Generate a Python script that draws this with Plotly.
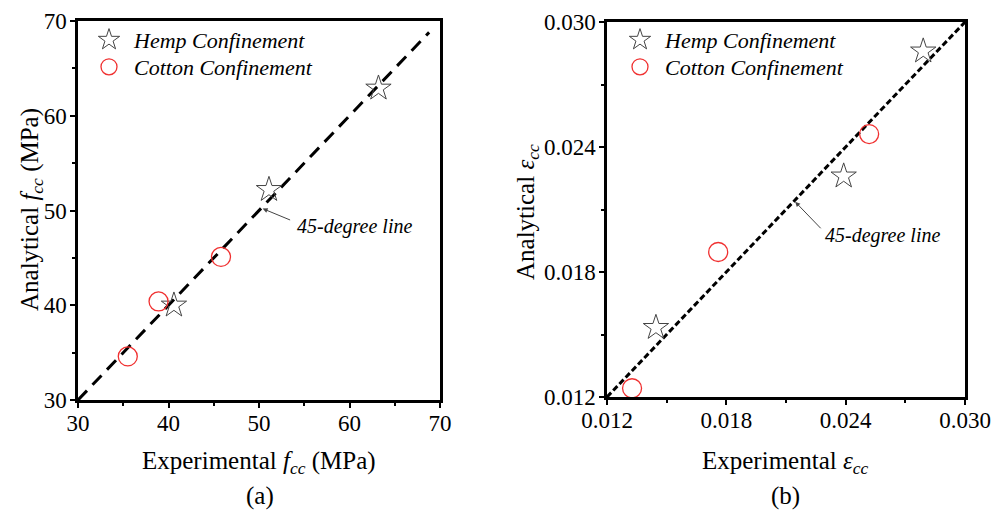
import plotly.graph_objects as go

# ---- data ----
hemp_fcc_exp = [40.6, 51.1, 63.2]
hemp_fcc_ana = [40.0, 52.2, 62.9]
cotton_fcc_exp = [35.5, 38.9, 45.8]
cotton_fcc_ana = [34.6, 40.4, 45.1]
line_fcc = [30, 68.8]

hemp_ecc_exp = [0.01446, 0.0239, 0.0279]
hemp_ecc_ana = [0.01533, 0.0226, 0.0286]
cotton_ecc_exp = [0.01326, 0.01759, 0.02518]
cotton_ecc_ana = [0.01242, 0.01896, 0.02462]
line_ecc = [0.012, 0.030]

fcc_ticks = [30, 40, 50, 60, 70]
ecc_ticks = [0.012, 0.018, 0.024, 0.030]
ecc_tick_text = ["0.012", "0.018", "0.024", "0.030"]

W, H = 998, 519
SERIF = "Liberation Serif"

dom_xa = [78 / W, 440 / W]
dom_ya = [1 - 400 / H, 1 - 21 / H]
dom_xb = [607 / W, 965 / W]
dom_yb = [1 - 397 / H, 1 - 22 / H]

fig = go.Figure()

# 45-degree lines
fig.add_trace(go.Scatter(x=line_fcc, y=line_fcc, mode="lines", xaxis="x", yaxis="y",
                         line=dict(color="black", width=3, dash="13px,8px"), showlegend=False))
fig.add_trace(go.Scatter(x=line_ecc, y=line_ecc, mode="lines", xaxis="x2", yaxis="y2",
                         line=dict(color="black", width=3, dash="6px,3px"), showlegend=False))

star = dict(symbol="star-open", size=19, color="#444", line=dict(color="#444", width=1))
circ = dict(symbol="circle-open", size=19, color="#f03030", line=dict(color="#f03030", width=1.3))

fig.add_trace(go.Scatter(x=hemp_fcc_exp, y=hemp_fcc_ana, mode="markers", xaxis="x", yaxis="y",
                         marker=star, name="<i>Hemp Confinement</i>", legend="legend"))
fig.add_trace(go.Scatter(x=cotton_fcc_exp, y=cotton_fcc_ana, mode="markers", xaxis="x", yaxis="y",
                         marker=circ, name="<i>Cotton Confinement</i>", legend="legend2"))
fig.add_trace(go.Scatter(x=hemp_ecc_exp, y=hemp_ecc_ana, mode="markers", xaxis="x2", yaxis="y2",
                         marker=star, name="<i>Hemp Confinement</i>", legend="legend3"))
fig.add_trace(go.Scatter(x=cotton_ecc_exp, y=cotton_ecc_ana, mode="markers", xaxis="x2", yaxis="y2",
                         marker=circ, name="<i>Cotton Confinement</i>", legend="legend4"))

tickfont = dict(family=SERIF, size=23, color="black")

def main_axis(domain, rng, tickvals, ticktext, anchor, minor_dtick, minor_tick0, standoff):
    return dict(domain=domain, range=rng, anchor=anchor, tickvals=tickvals, ticktext=ticktext,
                showline=True, mirror=True, linecolor="black", linewidth=2.5,
                ticks="outside", ticklen=5, tickwidth=2, tickcolor="black",
                ticklabelstandoff=standoff,
                minor=dict(ticks="outside", ticklen=3, tickwidth=1.5, tickcolor="black",
                           dtick=minor_dtick, tick0=minor_tick0),
                showgrid=False, zeroline=False, tickfont=tickfont, automargin=False)

def mirror_axis(over, side, rng, tickvals, anchor, minor_dtick, minor_tick0):
    return dict(overlaying=over, side=side, range=rng, anchor=anchor, tickvals=tickvals,
                showticklabels=False, showline=False, ticks="inside", ticklen=4, tickwidth=2,
                tickcolor="black",
                minor=dict(ticks="inside", ticklen=3, tickwidth=1.5, tickcolor="black",
                           dtick=minor_dtick, tick0=minor_tick0),
                showgrid=False, zeroline=False, automargin=False)

fcc_text = [str(v) for v in fcc_ticks]
fig.update_layout(
    xaxis=main_axis(dom_xa, [30, 70], fcc_ticks, fcc_text, "y", 5, 30, -4),
    yaxis=main_axis(dom_ya, [30, 70], fcc_ticks, fcc_text, "x", 5, 30, -1),
    xaxis2=main_axis(dom_xb, [0.012, 0.030], ecc_ticks, ecc_tick_text, "y2", 0.003, 0.012, -4),
    yaxis2=main_axis(dom_yb, [0.012, 0.030], ecc_ticks, ecc_tick_text, "x2", 0.003, 0.012, -1),
    xaxis3=mirror_axis("x", "top", [30, 70], fcc_ticks, "y", 5, 30),
    yaxis3=mirror_axis("y", "right", [30, 70], fcc_ticks, "x", 5, 30),
    xaxis4=mirror_axis("x2", "top", [0.012, 0.030], ecc_ticks, "y2", 0.003, 0.012),
    yaxis4=mirror_axis("y2", "right", [0.012, 0.030], ecc_ticks, "x2", 0.003, 0.012),
)

legfont = dict(family=SERIF, size=22, color="black")

def leg(xpx, ypx):
    return dict(x=xpx / W, y=1 - ypx / H, xanchor="left", yanchor="middle", font=legfont,
                bgcolor="rgba(0,0,0,0)", itemsizing="trace", itemwidth=40)

fig.update_layout(legend=leg(84, 40), legend2=leg(84, 67), legend3=leg(615, 40), legend4=leg(615, 67))

ann_font = dict(family=SERIF, size=25, color="black")
C = dict(xref="paper", yref="paper", showarrow=False, xanchor="center", yanchor="middle")
annotations = [
    dict(text="Experimental <i>f</i><sub><i>cc</i></sub> (MPa)", x=259 / W, y=1 - 462 / H,
         font=ann_font, **C),
    dict(text="Analytical <i>f</i><sub><i>cc</i></sub> (MPa)", x=31 / W, y=1 - 210 / H,
         font=ann_font, textangle=-90, **C),
    dict(text="(a)", x=260 / W, y=1 - 496 / H, font=dict(family=SERIF, size=25, color="black"), **C),
    dict(text="Experimental <i>ε</i><sub><i>cc</i></sub>", x=785 / W, y=1 - 462 / H,
         font=ann_font, **C),
    dict(text="Analytical <i>ε</i><sub><i>cc</i></sub>", x=528 / W, y=1 - 212 / H,
         font=ann_font, textangle=-90, **C),
    dict(text="(b)", x=785 / W, y=1 - 496 / H, font=dict(family=SERIF, size=25, color="black"), **C),
    # arrows
    dict(x=50.4, y=50.2, xref="x", yref="y", ax=29, ay=12, text="", showarrow=True,
         arrowhead=2, arrowsize=1, arrowwidth=1, arrowcolor="#444"),
    dict(text="<i>45-degree line</i>", x=54.0, y=48.3, xref="x", yref="y", xanchor="left",
         yanchor="middle", showarrow=False, font=dict(family=SERIF, size=20, color="black")),
    dict(x=0.02146, y=0.02137, xref="x2", yref="y2", ax=27, ay=28, text="", showarrow=True,
         arrowhead=2, arrowsize=1, arrowwidth=1, arrowcolor="#444"),
    dict(text="<i>45-degree line</i>", x=0.02287, y=0.01973, xref="x2", yref="y2", xanchor="left",
         yanchor="middle", showarrow=False, font=dict(family=SERIF, size=20, color="black")),
]
fig.update_layout(annotations=annotations)

fig.update_layout(width=W, height=H, margin=dict(l=0, r=0, t=0, b=0, autoexpand=False),
                  paper_bgcolor="white", plot_bgcolor="white",
                  font=dict(family=SERIF, color="black"))

fig.write_html("out.html", config={"displayModeBar": False},
               post_script="document.body.style.margin='0';document.body.style.overflow='hidden';")
